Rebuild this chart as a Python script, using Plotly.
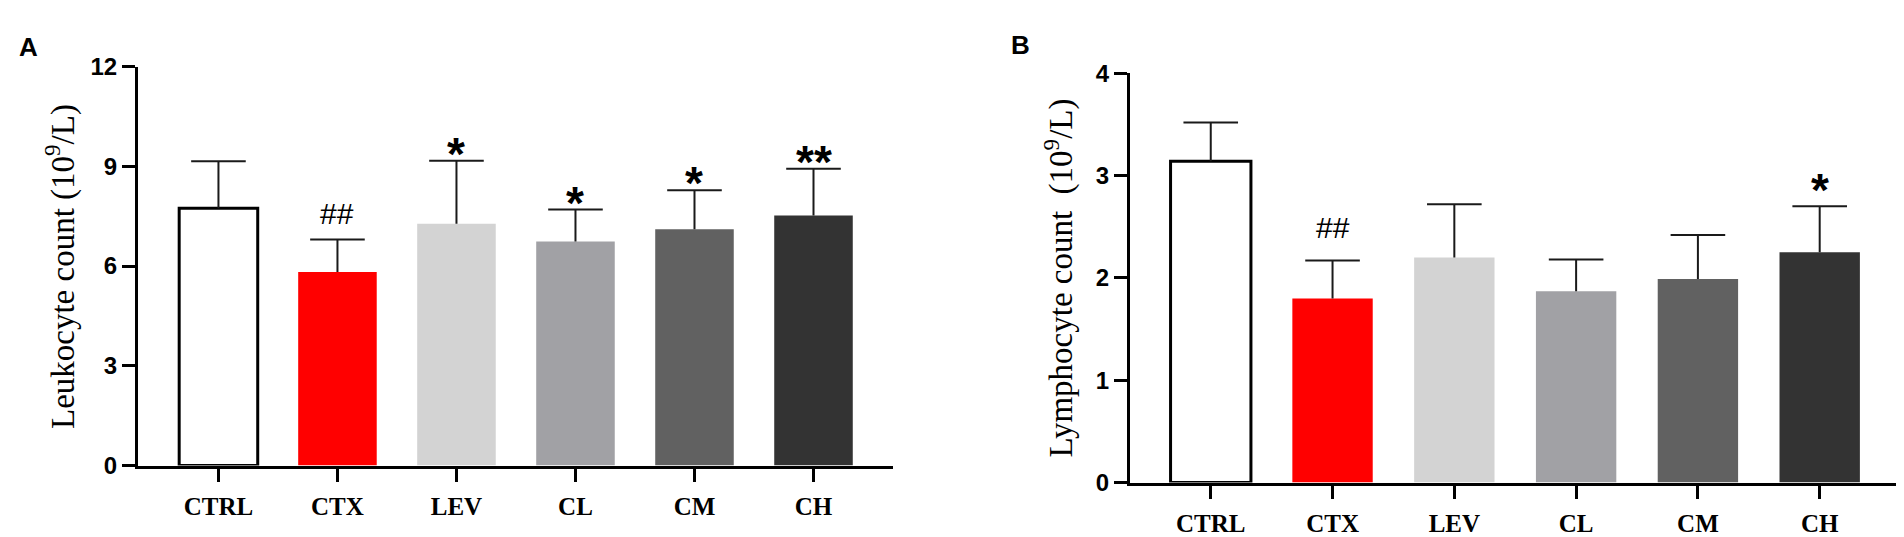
import plotly.graph_objects as go

# groups and colours
groups = ['CTRL', 'CTX', 'LEV', 'CL', 'CM', 'CH']
bar_colors = ['#FFFFFF', '#FF0000', '#D3D3D3', '#A1A1A5', '#616161', '#333333']

# panel A - leukocytes (10^9/L), mean and SD
leuko_mean = [7.74, 5.82, 7.27, 6.74, 7.11, 7.52]
leuko_sd = [1.41, 0.98, 1.90, 0.96, 1.17, 1.41]
leuko_marks = ['', '##', '*', '*', '*', '**']

# panel B - lymphocytes (10^9/L), mean and SD
lympho_mean = [3.14, 1.80, 2.20, 1.87, 1.99, 2.25]
lympho_sd = [0.38, 0.37, 0.52, 0.31, 0.43, 0.45]
lympho_marks = ['', '##', '', '', '', '*']

W, H = 1904, 537
ink = '#1a1a1a'

fig = go.Figure()


def add_panel(mean, sd, marks, xa, ya, star_shift, hash_shift):
    fig.add_trace(go.Bar(
        x=groups, y=mean, xaxis=xa, yaxis=ya, width=0.66,
        marker=dict(color=bar_colors,
                    line=dict(color='black', width=[3, 0, 0, 0, 0, 0])),
        showlegend=False, hoverinfo='skip'))
    tops = [m + s for m, s in zip(mean, sd)]
    # upper error bar only: stem down to the bar, cap drawn as a marker
    fig.add_trace(go.Scatter(
        x=groups, y=tops, xaxis=xa, yaxis=ya, mode='markers',
        marker=dict(symbol='line-ew', size=39, line=dict(width=2, color=ink)),
        error_y=dict(type='data', symmetric=False, array=[0] * len(sd),
                     arrayminus=sd, width=0, thickness=2, color=ink),
        showlegend=False, hoverinfo='skip'))
    for g, t, mk in zip(groups, tops, marks):
        if not mk:
            continue
        if mk.startswith('*'):
            f = dict(family='Liberation Sans', size=46, color='black', weight='bold')
            shift = star_shift
        else:
            f = dict(family='Liberation Sans', size=30, color='black')
            shift = hash_shift
        fig.add_annotation(x=g, y=t, xref=xa, yref=ya, text=mk,
                           showarrow=False, yanchor='middle', yshift=shift, font=f)


add_panel(leuko_mean, leuko_sd, leuko_marks, 'x', 'y', 7, 26)
add_panel(lympho_mean, lympho_sd, lympho_marks, 'x2', 'y2', 16, 33)

xcommon = dict(type='category', showline=True, linecolor='black', linewidth=3,
               ticks='outside', ticklen=13, tickwidth=3, tickcolor='black',
               showgrid=False, zeroline=False, ticklabelstandoff=3,
               tickfont=dict(family='Liberation Serif', size=25, color='black',
                             weight='bold'))
ycommon = dict(showline=True, linecolor='black', linewidth=3,
               ticks='outside', ticklen=13, tickwidth=3, tickcolor='black',
               showgrid=False, zeroline=False,
               tickfont=dict(family='Liberation Sans', size=24, color='black',
                             weight='bold'))

fig.update_layout(
    width=W, height=H, margin=dict(l=0, r=0, t=0, b=0),
    plot_bgcolor='white', paper_bgcolor='white', bargap=0.34,
    xaxis=dict(xcommon, domain=[130 / W, 885 / W], range=[-0.676, 5.668], anchor='y'),
    yaxis=dict(ycommon, domain=[1 - 467 / H, 1 - 47 / H], range=[0, 12],
               tickvals=[0, 3, 6, 9, 12], anchor='x'),
    xaxis2=dict(xcommon, domain=[1122 / W, 1895 / W], range=[-0.663, 5.684], anchor='y2'),
    yaxis2=dict(ycommon, domain=[1 - 485 / H, 1 - 54 / H], range=[0, 4],
                tickvals=[0, 1, 2, 3, 4], anchor='x2'),
)

title_font = dict(family='Liberation Serif', size=33, color='black')
fig.add_annotation(x=52 / W, y=1 - 258 / H, xref='paper', yref='paper',
                   text='Leukocyte count (10<sup>9</sup>/L)', textangle=-90,
                   showarrow=False, xanchor='center', yanchor='middle', font=title_font)
fig.add_annotation(x=1051 / W, y=1 - 270 / H, xref='paper', yref='paper',
                   text='Lymphocyte count\u00a0 (10<sup>9</sup>/L)', textangle=-90,
                   showarrow=False, xanchor='center', yanchor='middle', font=title_font)

letter_font = dict(family='Liberation Sans', size=26, color='black', weight='bold')
fig.add_annotation(x=20 / W, y=1 - 26 / H, xref='paper', yref='paper', text='A',
                   showarrow=False, xanchor='center', yanchor='middle', font=letter_font)
fig.add_annotation(x=1012 / W, y=1 - 24 / H, xref='paper', yref='paper', text='B',
                   showarrow=False, xanchor='center', yanchor='middle', font=letter_font)

fig.write_html("out.html")
